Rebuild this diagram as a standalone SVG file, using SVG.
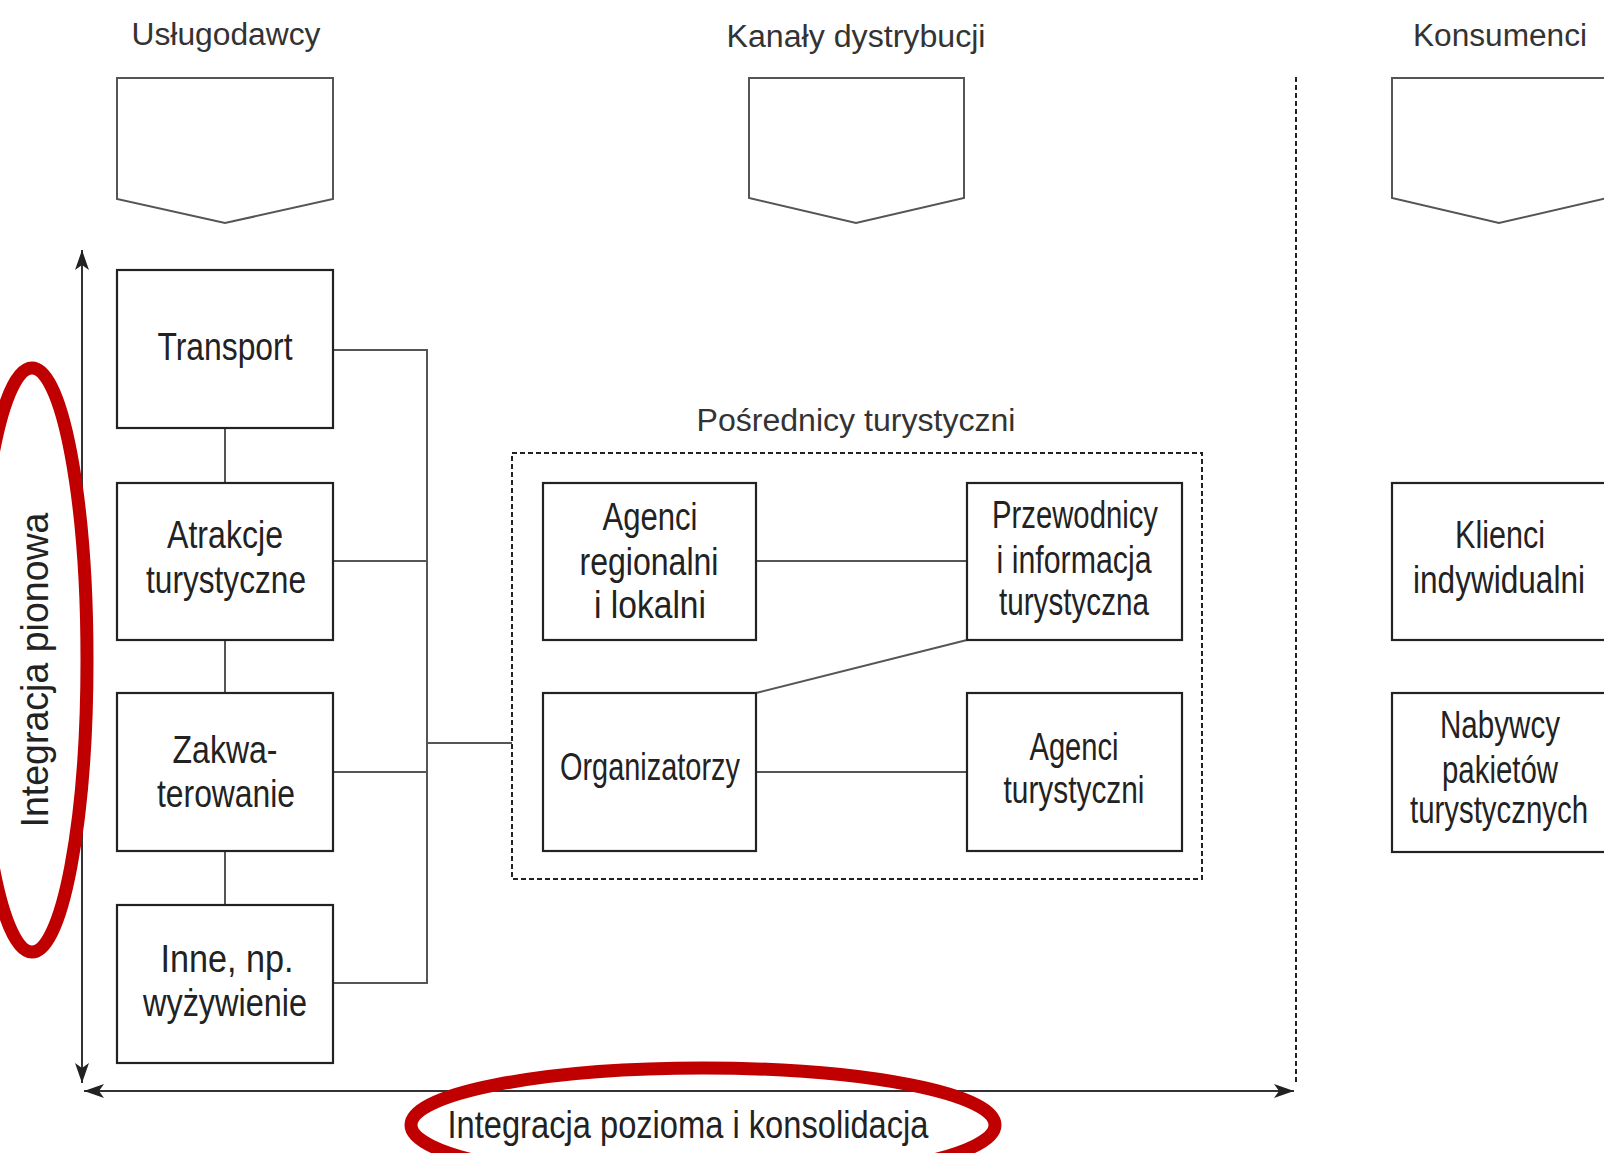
<svg xmlns="http://www.w3.org/2000/svg" width="1604" height="1153" viewBox="0 0 1604 1153">
<style>
.bg{fill:#fff}
.box{fill:#fff;stroke:#222;stroke-width:2.2}
.pent{fill:#fff;stroke:#555;stroke-width:2}
.lbl{font-family:"Liberation Sans",Arial,sans-serif;font-size:38px;fill:#222;text-anchor:middle}
.hdr{font-family:"Liberation Sans",Arial,sans-serif;font-size:31px;fill:#333;text-anchor:middle}
.con{fill:none;stroke:#555;stroke-width:2}
.dash{fill:none;stroke:#222;stroke-width:2;stroke-dasharray:5 3}
.arrow{fill:none;stroke:#333;stroke-width:2}
.red{fill:none;stroke:#C00000;stroke-width:13}
</style>
<defs>
<marker id="arr" viewBox="0 0 20 14" refX="20" refY="7" markerWidth="20" markerHeight="14" markerUnits="userSpaceOnUse" orient="auto-start-reverse">
<path d="M0,0 L20,7 L0,14 L5,7 Z" fill="#222"/>
</marker>
</defs>
<rect class="bg" x="0" y="0" width="1604" height="1153"/>

<g id="headers">
<g id="h-uslugodawcy">
<text class="hdr" x="226" y="45" textLength="189" lengthAdjust="spacingAndGlyphs">Usługodawcy</text>
<path class="pent" d="M117,78 H333 V199 L225,223 L117,199 Z"/>
</g>
<g id="h-kanaly">
<text class="hdr" x="856" y="47" textLength="259" lengthAdjust="spacingAndGlyphs">Kanały dystrybucji</text>
<path class="pent" d="M749,78 H964 V198 L856,223 L749,198 Z"/>
</g>
<g id="h-konsumenci">
<text class="hdr" x="1500" y="46" textLength="174" lengthAdjust="spacingAndGlyphs">Konsumenci</text>
<path class="pent" d="M1392,78 H1607 V198 L1499,223 L1392,198 Z"/>
</g>
</g>

<g id="connectors">
<line class="con" x1="225" y1="428" x2="225" y2="483"/>
<line class="con" x1="225" y1="640" x2="225" y2="693"/>
<line class="con" x1="225" y1="851" x2="225" y2="905"/>
<polyline class="con" points="333,350 427,350 427,983 333,983"/>
<line class="con" x1="333" y1="561" x2="427" y2="561"/>
<line class="con" x1="333" y1="772" x2="427" y2="772"/>
<line class="con" x1="427" y1="743" x2="512" y2="743"/>
<line class="con" x1="756" y1="561" x2="967" y2="561"/>
<line class="con" x1="756" y1="772" x2="967" y2="772"/>
<line class="con" x1="756" y1="693" x2="967" y2="640"/>
<line class="dash" x1="1296" y1="77" x2="1296" y2="1085"/>
<line class="arrow" x1="82" y1="250" x2="82" y2="1083" marker-start="url(#arr)" marker-end="url(#arr)"/>
<line class="arrow" x1="84" y1="1091" x2="1294" y2="1091" stroke-width="3" stroke="#555" marker-start="url(#arr)" marker-end="url(#arr)"/>
</g>

<g id="posrednicy">
<rect class="dash" x="512" y="453" width="690" height="426"/>
<text class="hdr" x="856" y="431" font-size="32" textLength="319" lengthAdjust="spacingAndGlyphs">Pośrednicy turystyczni</text>
</g>

<g id="transport">
<rect class="box" x="117" y="270" width="216" height="158"/>
<text class="lbl" x="225" y="360" textLength="135" lengthAdjust="spacingAndGlyphs">Transport</text>
</g>
<g id="atrakcje">
<rect class="box" x="117" y="483" width="216" height="157"/>
<text class="lbl" x="225" y="548" textLength="116" lengthAdjust="spacingAndGlyphs">Atrakcje</text>
<text class="lbl" x="226" y="593" textLength="160" lengthAdjust="spacingAndGlyphs">turystyczne</text>
</g>
<g id="zakwaterowanie">
<rect class="box" x="117" y="693" width="216" height="158"/>
<text class="lbl" x="225" y="763" textLength="105" lengthAdjust="spacingAndGlyphs">Zakwa-</text>
<text class="lbl" x="226" y="807" textLength="138" lengthAdjust="spacingAndGlyphs">terowanie</text>
</g>
<g id="inne">
<rect class="box" x="117" y="905" width="216" height="158"/>
<text class="lbl" x="227" y="972" textLength="133" lengthAdjust="spacingAndGlyphs">Inne, np.</text>
<text class="lbl" x="225" y="1016" textLength="164" lengthAdjust="spacingAndGlyphs">wyżywienie</text>
</g>

<g id="agenci-regionalni">
<rect class="box" x="543" y="483" width="213" height="157"/>
<text class="lbl" x="650" y="530" textLength="95" lengthAdjust="spacingAndGlyphs">Agenci</text>
<text class="lbl" x="649" y="575" textLength="139" lengthAdjust="spacingAndGlyphs">regionalni</text>
<text class="lbl" x="650" y="618" textLength="112" lengthAdjust="spacingAndGlyphs">i lokalni</text>
</g>
<g id="przewodnicy">
<rect class="box" x="967" y="483" width="215" height="157"/>
<text class="lbl" x="1075" y="528" textLength="166" lengthAdjust="spacingAndGlyphs">Przewodnicy</text>
<text class="lbl" x="1074" y="573" textLength="155" lengthAdjust="spacingAndGlyphs">i informacja</text>
<text class="lbl" x="1074" y="615" textLength="150" lengthAdjust="spacingAndGlyphs">turystyczna</text>
</g>
<g id="organizatorzy">
<rect class="box" x="543" y="693" width="213" height="158"/>
<text class="lbl" x="650" y="780" textLength="180" lengthAdjust="spacingAndGlyphs">Organizatorzy</text>
</g>
<g id="agenci-turystyczni">
<rect class="box" x="967" y="693" width="215" height="158"/>
<text class="lbl" x="1074" y="760" textLength="89" lengthAdjust="spacingAndGlyphs">Agenci</text>
<text class="lbl" x="1074" y="803" textLength="141" lengthAdjust="spacingAndGlyphs">turystyczni</text>
</g>

<g id="klienci">
<rect class="box" x="1392" y="483" width="216" height="157"/>
<text class="lbl" x="1500" y="548" textLength="90" lengthAdjust="spacingAndGlyphs">Klienci</text>
<text class="lbl" x="1499" y="593" textLength="172" lengthAdjust="spacingAndGlyphs">indywidualni</text>
</g>
<g id="nabywcy">
<rect class="box" x="1392" y="693" width="216" height="159"/>
<text class="lbl" x="1500" y="738" textLength="120" lengthAdjust="spacingAndGlyphs">Nabywcy</text>
<text class="lbl" x="1500" y="783" textLength="116" lengthAdjust="spacingAndGlyphs">pakietów</text>
<text class="lbl" x="1499" y="823" textLength="178" lengthAdjust="spacingAndGlyphs">turystycznych</text>
</g>

<g id="integracja-pionowa">
<text class="lbl" font-size="37" transform="translate(48,670) rotate(-90)" textLength="315" lengthAdjust="spacingAndGlyphs">Integracja pionowa</text>
</g>
<g id="integracja-pozioma">
<text class="lbl" x="688" y="1138" textLength="481" lengthAdjust="spacingAndGlyphs">Integracja pozioma i konsolidacja</text>
</g>

<g id="highlights">
<ellipse class="red" cx="32" cy="660" rx="55" ry="292"/>
<ellipse class="red" cx="703" cy="1125" rx="292" ry="57"/>
</g>
</svg>
